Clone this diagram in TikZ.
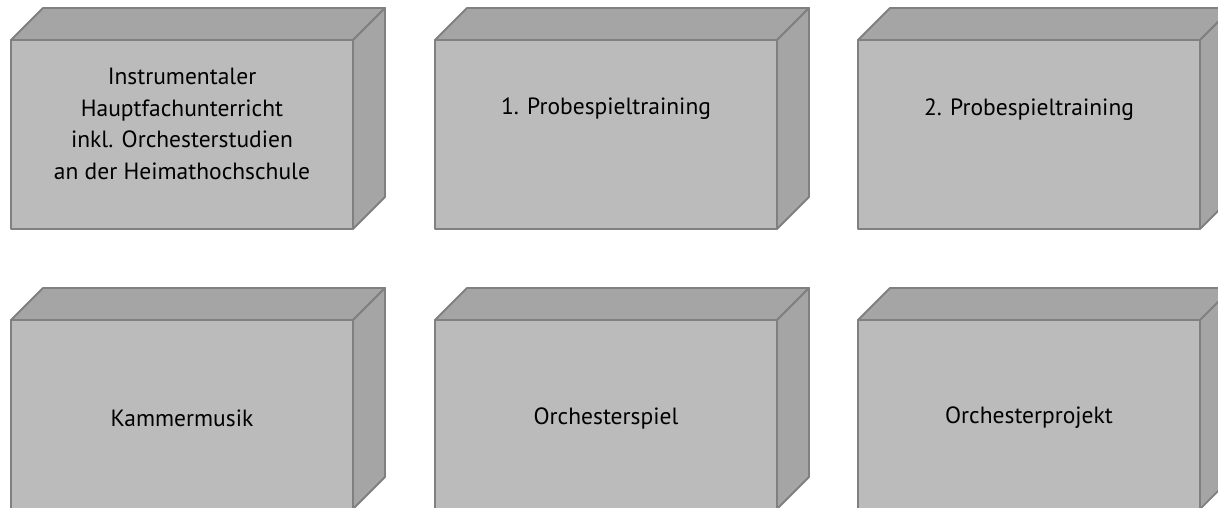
\documentclass[tikz,border=0pt]{standalone}
\usepackage{fontspec}
\setmainfont{PT Sans}
\definecolor{frontc}{RGB}{187,187,187}
\definecolor{sidec}{RGB}{165,165,165}
\definecolor{edgec}{RGB}{128,128,128}
\tikzset{
  face/.style={draw=edgec, line width=1.8pt, line join=round},
  boxtext/.style={align=center, font=\fontsize{23.5}{31.5}\selectfont, text=black, inner sep=0pt}
}
\newcommand\mycube[5]{% x, y (front top-left), name, text y, text
  \fill[face, fill=sidec] (#1,#2) -- ++(32,-32) -- ++(342,0) -- ++(-32,32) -- cycle;
  \fill[face, fill=sidec] (#1+342,#2) -- ++(32,-32) -- ++(0,189) -- ++(-32,32) -- cycle;
  \filldraw[face, fill=frontc] (#1,#2) rectangle ++(342,189);
  \node[boxtext] (#3) at (#1+171,#4) {#5};
}
\begin{document}
\begin{tikzpicture}[x=1pt,y=-1pt]
\useasboundingbox (0,0) rectangle (1218,507);
\begin{scope}
\clip (0,0) rectangle (1218,507);
\mycube{11}{40}{a}{124}{Instrumentaler\\Hauptfachunterricht\\inkl. Orchesterstudien\\an der Heimathochschule}
\mycube{435}{40}{b}{109}{1. Probespieltraining}
\mycube{858}{40}{c}{110}{2. Probespieltraining}
\mycube{11}{320}{d}{418}{Kammermusik}
\mycube{435}{320}{e}{418}{Orchesterspiel}
\mycube{858}{320}{f}{418}{Orchesterprojekt}
\end{scope}
\end{tikzpicture}
\end{document}
